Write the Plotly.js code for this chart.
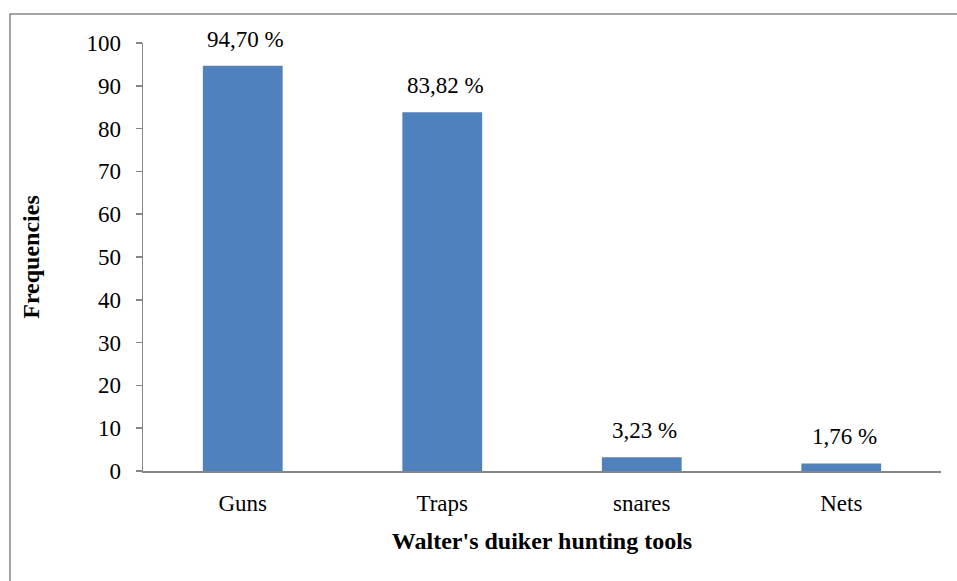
<!DOCTYPE html>
<html>
<head>
<meta charset="utf-8">
<script src="https://cdn.plot.ly/plotly-3.0.1.min.js"></script>
<style>
html,body{margin:0;padding:0;background:#fff;}
#chart{width:957px;height:581px;}
</style>
</head>
<body>
<div id="chart"></div>
<script>
const categories = ["Guns", "Traps", "snares", "Nets"];
const values = [94.70, 83.82, 3.23, 1.76];
const valueLabels = ["94,70 %", "83,82 %", "3,23 %", "1,76 %"];
const yTicks = [0, 10, 20, 30, 40, 50, 60, 70, 80, 90, 100];

const FONT = "Liberation Serif, Times New Roman, serif";

const trace = {
  type: "bar",
  x: categories,
  y: values,
  marker: {color: "#4F81BD"},
  hoverinfo: "x+y"
};

const annotations = categories.map((c, i) => ({
  x: c, y: values[i], xref: "x", yref: "y",
  text: valueLabels[i],
  showarrow: false,
  yanchor: "bottom",
  yshift: 12,
  xshift: 3,
  font: {family: FONT, size: 23, color: "#000"}
}));

const layout = {
  width: 957,
  height: 581,
  margin: {l: 143, r: 16, t: 43, b: 110},
  paper_bgcolor: "#fff",
  plot_bgcolor: "#fff",
  bargap: 0.6,
  showlegend: false,
  font: {family: FONT, size: 23, color: "#000"},
  annotations: annotations,
  xaxis: {
    type: "category",
    showline: true,
    linecolor: "#868686",
    linewidth: 1.5,
    ticks: "",
    showgrid: false,
    zeroline: false,
    tickfont: {family: FONT, size: 23, color: "#000"},
    ticklabelstandoff: 11,
    title: {text: "<b>Walter's duiker hunting tools</b>", font: {family: FONT, size: 24, color: "#000"}, standoff: 17}
  },
  yaxis: {
    range: [0, 100],
    tickvals: yTicks,
    ticktext: yTicks.map(String),
    showline: true,
    linecolor: "#868686",
    linewidth: 1.5,
    ticks: "outside",
    ticklen: 6,
    tickcolor: "#868686",
    tickwidth: 1.5,
    showgrid: false,
    zeroline: false,
    ticklabelstandoff: 10,
    tickfont: {family: FONT, size: 23, color: "#000"},
    title: {text: "<b>Frequencies</b>", font: {family: FONT, size: 24, color: "#000"}, standoff: 40}
  },
  shapes: [{
    type: "rect",
    xref: "paper", yref: "paper",
    x0: (10 - 143) / 798, x1: (1000 - 143) / 798,
    y0: (471 - 620) / 428, y1: (471 - 14) / 428,
    line: {color: "#868686", width: 1.5},
    fillcolor: "rgba(0,0,0,0)",
    layer: "below"
  }]
};

Plotly.newPlot("chart", [trace], layout, {displayModeBar: false, staticPlot: true});
</script>
</body>
</html>
